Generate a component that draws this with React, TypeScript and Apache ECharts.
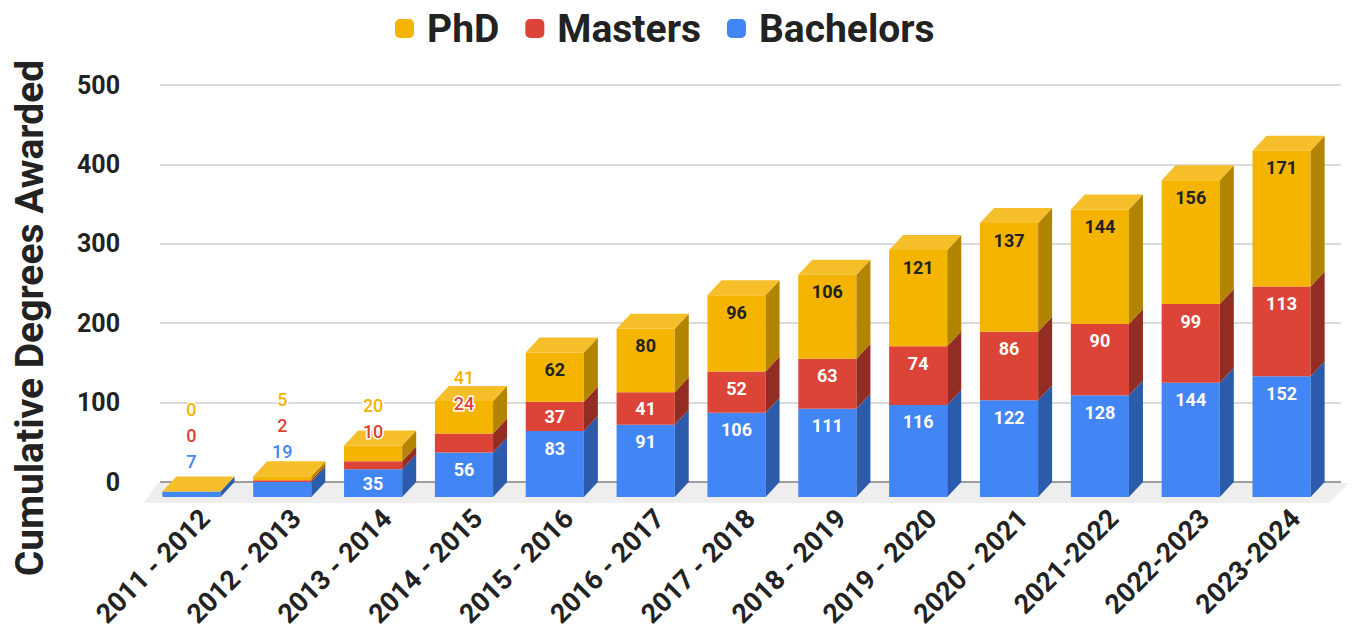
import React, { useEffect, useRef } from 'react';
import * as echarts from 'echarts';

const categories = [
  '2011 - 2012', '2012 - 2013', '2013 - 2014', '2014 - 2015', '2015 - 2016', '2016 - 2017',
  '2017 - 2018', '2018 - 2019', '2019 - 2020', '2020 - 2021', '2021-2022', '2022-2023', '2023-2024',
];
const bachelors = [7, 19, 35, 56, 83, 91, 106, 111, 116, 122, 128, 144, 152];
const masters = [0, 2, 10, 24, 37, 41, 52, 63, 74, 86, 90, 99, 113];
const phd = [0, 5, 20, 41, 62, 80, 96, 106, 121, 137, 144, 156, 171];
const seriesNames = ['Bachelors', 'Masters', 'PhD'];
const legendOrder = ['PhD', 'Masters', 'Bachelors'];
const yMin = 0;
const yMax = 500;
const yInterval = 100;
const axisTitle = 'Cumulative Degrees Awarded';

const FRONT = ['#4285F4', '#DB4437', '#F4B400'];
const SIDE = ['#2D5BAC', '#932C23', '#B38400'];
const TOP = '#F6BF2A';
const INSIDE_TEXT = ['#FFFFFF', '#FFFFFF', '#222222'];
const DX = 14;
const DY = 15;
const FONT = 'Roboto, "Liberation Sans", Arial, sans-serif';

const stacks = [bachelors, masters, phd];

function stackOf(i: number) {
  return stacks.map((s) => s[i]);
}

function layoutLabels(i: number, api: any) {
  const vals = stackOf(i);
  let cum = 0;
  let prevY = Infinity;
  let forced = false;
  const out: { y: number; inside: boolean }[] = [];
  for (let k = 0; k < vals.length; k++) {
    const yb = api.coord([i, cum])[1] + DY;
    const yt = api.coord([i, cum + vals[k]])[1] + DY;
    const h = yb - yt;
    const c = Math.min((yb + yt) / 2, yt + 17);
    let y: number;
    let inside: boolean;
    if (!forced && h >= 24 && c <= prevY - 24) {
      y = c;
      inside = true;
    } else if (!forced) {
      forced = true;
      y = Math.min(yt - 30, prevY - 26);
      inside = false;
    } else {
      y = prevY - 26;
      inside = false;
    }
    out.push({ y, inside });
    prevY = y;
    cum += vals[k];
  }
  return out;
}

function makeRenderItem(k: number) {
  return (params: any, api: any) => {
    const i = api.value(0);
    const base = api.value(1);
    const val = api.value(2);
    const [xc, y0] = api.coord([i, base]);
    const y1 = api.coord([i, base + val])[1];
    const band = api.size([1, 0])[0];
    const w = band * 0.64;
    const fx = xc - w / 2 - DX;
    const children: any[] = [
      {
        type: 'rect',
        shape: { x: fx, y: y1 + DY, width: w, height: y0 - y1 },
        style: { fill: FRONT[k] },
      },
      {
        type: 'polygon',
        shape: {
          points: [
            [fx + w, y1 + DY],
            [fx + w + DX, y1],
            [fx + w + DX, y0],
            [fx + w, y0 + DY],
          ],
        },
        style: { fill: SIDE[k] },
      },
    ];
    if (k === stacks.length - 1) {
      children.push({
        type: 'polygon',
        shape: {
          points: [
            [fx, y1 + DY],
            [fx + DX, y1],
            [fx + w + DX, y1],
            [fx + w, y1 + DY],
          ],
        },
        style: { fill: TOP },
      });
    }
    const lab = layoutLabels(i, api)[k];
    children.push({
      type: 'text',
      z2: 100,
      x: fx + w / 2,
      y: lab.y,
      style: lab.inside
        ? {
            text: String(val),
            fill: INSIDE_TEXT[k],
            font: `bold 18px ${FONT}`,
            align: 'center',
            verticalAlign: 'middle',
          }
        : {
            text: String(val),
            fill: FRONT[k],
            stroke: '#FFFFFF',
            lineWidth: 3,
            font: `500 18px ${FONT}`,
            align: 'center',
            verticalAlign: 'middle',
          },
    });
    return { type: 'group', children };
  };
}

export default function App() {
  const ref = useRef<HTMLDivElement>(null);
  useEffect(() => {
    if (!ref.current) return;
    const chart = echarts.init(ref.current, null, { renderer: 'svg' });
    const bases: number[][] = [];
    stacks.forEach((s, k) => {
      bases.push(s.map((_, i) => (k === 0 ? 0 : bases[k - 1][i] + stacks[k - 1][i])));
    });
    const barSeries = stacks.map((s, k) => ({
      type: 'custom',
      name: seriesNames[k],
      itemStyle: { color: FRONT[k] },
      encode: { x: 0, y: 2 },
      data: s.map((v, i) => [i, bases[k][i], v]),
      renderItem: makeRenderItem(k),
      z: 3,
    }));
    const floorSeries = {
      type: 'custom',
      name: 'floor',
      silent: true,
      z: 1,
      data: [[0, 0]],
      encode: { x: 0, y: 1 },
      renderItem: (params: any) => {
        const cs = params.coordSys;
        const by = cs.y + cs.height;
        const l = cs.x - 2;
        const r = cs.x + cs.width + 8;
        return {
          type: 'polygon',
          shape: {
            points: [
              [l, by + 1],
              [r, by + 1],
              [r - DX - 6, by + 21],
              [l - DX, by + 21],
            ],
          },
          style: { fill: '#EEEEEE' },
        };
      },
    };
    chart.setOption({
      animation: false,
      backgroundColor: '#FFFFFF',
      textStyle: { fontFamily: FONT },
      legend: {
        data: legendOrder,
        left: 390,
        top: 4,
        icon: 'roundRect',
        itemWidth: 19,
        itemHeight: 19,
        itemGap: 26,
        textStyle: { fontSize: 39, fontWeight: 'bold', color: '#222222', fontFamily: FONT, padding: [0, 0, 0, 8] },
      },
      grid: { left: 160, right: 15, top: 85, bottom: 156, containLabel: false },
      xAxis: {
        type: 'category',
        data: categories,
        axisTick: { show: false },
        axisLine: { show: false },
        axisLabel: {
          interval: 0,
          rotate: 45,
          margin: 32,
          fontSize: 27,
          fontWeight: 'bold',
          color: '#222222',
          fontFamily: FONT,
        },
      },
      yAxis: {
        type: 'value',
        min: yMin,
        max: yMax,
        interval: yInterval,
        axisLine: { show: false },
        axisTick: { show: false },
        axisLabel: { margin: 40, fontSize: 25, fontWeight: 'bold', color: '#222222', fontFamily: FONT },
        splitLine: {
          lineStyle: {
            color: ['#9E9E9E', '#DADADA', '#DADADA', '#DADADA', '#DADADA', '#DADADA'],
            width: 2,
          },
        },
      },
      graphic: [
        {
          type: 'text',
          x: 30,
          y: 318,
          rotation: Math.PI / 2,
          style: {
            text: axisTitle,
            font: `bold 39px ${FONT}`,
            fill: '#222222',
            align: 'center',
            verticalAlign: 'middle',
          },
        },
      ],
      series: [floorSeries, ...barSeries],
    });
    return () => chart.dispose();
  }, []);
  return <div ref={ref} style={{ position: 'fixed', left: 0, top: 0, width: 1356, height: 638 }} />;
}
